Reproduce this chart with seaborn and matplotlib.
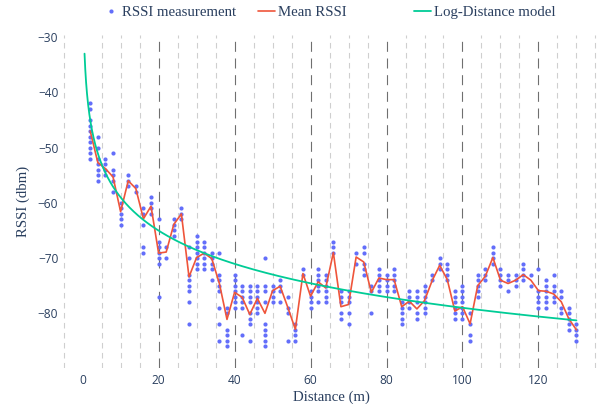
import numpy as np
import pandas as pd
import matplotlib
matplotlib.use("Agg")
import matplotlib.pyplot as plt
from matplotlib.lines import Line2D
from matplotlib.ticker import MultipleLocator
import seaborn as sns

# Measurement positions (m) and the RSSI readings taken at each position (dBm)
distances = [2, 4, 6, 8, 10, 12, 14, 16, 18, 20, 22, 24, 26, 28, 30, 32, 34, 36, 38, 40,
             42, 44, 46, 48, 50, 52, 54, 56, 58, 60, 62, 64, 66, 68, 70, 72, 74, 76, 78, 80,
             82, 84, 86, 88, 90, 92, 94, 96, 98, 100, 102, 104, 106, 108, 110, 112, 114, 116,
             118, 120, 122, 124, 126, 128, 130]

rssi_readings = [
    [-42, -43, -45, -46, -47, -48, -49, -50, -51, -52],
    [-48, -50, -52, -53, -54, -55, -56],
    [-52, -53, -54, -55],
    [-51, -54, -55, -56, -58],
    [-60, -61, -62, -63, -64],
    [-55, -56, -57],
    [-57, -58],
    [-61, -62, -64, -68, -69],
    [-59, -60, -61, -62],
    [-63, -67, -68, -69, -70, -71, -77],
    [-68, -70],
    [-63, -64, -65, -66],
    [-61, -62, -63],
    [-68, -70, -73, -74, -75, -76, -78, -82],
    [-66, -67, -68, -69, -70, -71, -72],
    [-67, -68, -69, -70, -71, -72],
    [-69, -70, -71, -72, -74],
    [-69, -73, -74, -75, -76, -79, -82, -85],
    [-79, -80, -83, -84, -85, -86],
    [-73, -74, -75, -76, -77, -78, -79],
    [-75, -76, -77, -78, -79, -84],
    [-75, -76, -77, -78, -80, -81, -82, -85],
    [-75, -76, -77, -78, -79, -80],
    [-70, -75, -76, -78, -82, -83, -84, -85, -86],
    [-75, -76, -77, -78],
    [-74, -75, -76, -78],
    [-77, -79, -80, -85],
    [-82, -83, -84, -85],
    [-72, -73],
    [-76, -77, -78, -79],
    [-72, -73, -74, -75, -76, -78],
    [-73, -74, -75, -76, -77, -78],
    [-67, -68, -69],
    [-76, -77, -78, -80, -81],
    [-76, -77, -78, -80, -82],
    [-69, -71],
    [-68, -69, -71, -72, -73],
    [-75, -76, -80],
    [-72, -73, -74, -75, -76],
    [-73, -74, -75, -76],
    [-72, -73, -74, -75, -76],
    [-78, -79, -80, -81, -82],
    [-76, -77, -78, -79],
    [-76, -77, -78, -80, -81],
    [-75, -76, -77, -78, -79, -80],
    [-73, -74],
    [-70, -71, -72],
    [-71, -72, -73, -74],
    [-76, -77, -78, -79, -80, -81],
    [-75, -76, -77, -78, -79, -80, -81],
    [-80, -82, -84, -85],
    [-73, -74, -75, -76, -77],
    [-72, -73, -74],
    [-68, -69, -70, -71],
    [-72, -73, -74, -75],
    [-73, -74, -76],
    [-73, -74, -75],
    [-71, -72, -73, -74],
    [-73, -75],
    [-72, -76, -77, -78, -79],
    [-74, -75, -76, -77, -78, -79],
    [-73, -75, -76, -77, -78],
    [-76, -77, -79, -80],
    [-79, -80, -81, -82, -83],
    [-82, -83, -84, -85],
]

# Mean RSSI per position (all repeated readings included)
mean_rssi = [-47.0, -52.7, -53.8, -55.3, -61.6, -56.0, -57.4, -62.9, -60.6, -69.1,
             -68.9, -63.9, -62.0, -73.4, -69.9, -69.1, -70.1, -74.6, -81.1, -76.2,
             -77.1, -80.2, -77.3, -80.0, -75.9, -75.1, -78.9, -82.9, -72.8, -76.9,
             -74.3, -75.4, -69.0, -78.8, -78.4, -69.8, -70.7, -76.2, -73.6, -73.9,
             -73.9, -78.8, -77.8, -79.2, -77.7, -74.1, -71.3, -73.9, -79.6, -78.8,
             -81.9, -75.0, -73.3, -69.9, -74.0, -74.6, -74.0, -73.0, -74.0, -75.9,
             -76.0, -76.5, -77.9, -81.0, -83.0]

# Log-distance path loss model: RSSI(d) = P0 - 10 * n * log10(d)
model_p0 = -39.0
model_n = 2.0
model_range = (0.5, 130.0)

# Colours
BLUE = "#636EFA"
RED = "#EF553B"
GREEN = "#00CC96"
TEXT = "#2a3f5f"

samples = pd.DataFrame(
    [(d, v) for d, vals in zip(distances, rssi_readings) for v in vals],
    columns=["distance", "rssi"],
)
means = pd.DataFrame({"distance": distances, "rssi": mean_rssi})
model_d = np.geomspace(*model_range, 400)
model = pd.DataFrame({"distance": model_d,
                      "rssi": model_p0 - 10 * model_n * np.log10(model_d)})

sns.set_theme(style="white")
plt.rcParams["font.family"] = ["Open Sans", "DejaVu Sans"]

fig = plt.figure(figsize=(6.05, 4.04), dpi=100)
W, H = 605, 404
left, right, top, bottom = 62.5, 600, 35, 368
ax = fig.add_axes([left / W, 1 - bottom / H, (right - left) / W, (bottom - top) / H])

sns.scatterplot(data=samples, x="distance", y="rssi", ax=ax, color=BLUE,
                s=9, linewidth=0, zorder=3, legend=False)
sns.lineplot(data=means, x="distance", y="rssi", ax=ax, color=RED,
             linewidth=1.2, estimator=None, sort=False, zorder=4)
sns.lineplot(data=model, x="distance", y="rssi", ax=ax, color=GREEN,
             linewidth=1.3, estimator=None, sort=False, zorder=5)

ax.set_xlim(-5.3, 136.2)
ax.set_ylim(-89.9, -29.6)
ax.set_yticks([-80, -70, -60, -50, -40, -30])

ax.xaxis.set_major_locator(MultipleLocator(20))
ax.xaxis.set_minor_locator(MultipleLocator(5))
ax.grid(False)
ax.grid(True, axis="x", which="major", color="#6f6f6f", linewidth=0.8,
        linestyle=(0, (9, 6)))
ax.grid(True, axis="x", which="minor", color="#cfcfcf", linewidth=0.8,
        linestyle=(0, (5, 4)))
for tick in ax.xaxis.get_major_ticks():
    if abs(tick.get_loc()) < 1e-9:
        tick.gridline.set_visible(False)

for s in ax.spines.values():
    s.set_visible(False)
ax.tick_params(axis="both", which="both", length=0, labelsize=8.6, labelcolor=TEXT)
ax.tick_params(axis="y", pad=3)
ax.tick_params(axis="x", pad=4)

serif = {"family": ["Liberation Serif", "DejaVu Serif"], "size": 10.7, "color": TEXT}
ax.set_xlabel("Distance (m)", fontdict=serif, labelpad=3)
ax.set_ylabel("RSSI (dbm)", fontdict=serif, labelpad=6)

legend_font = {"family": ["Liberation Serif", "DejaVu Serif"], "size": 10.7}
entries = [
    (Line2D([], [], marker="o", linestyle="", color=BLUE, markersize=3.0,
            markeredgewidth=0), "RSSI measurement", 107.5, 0.5, 0.47),
    (Line2D([], [], color=RED, linewidth=1.2), "Mean RSSI", 258, 1.14, 0.2),
    (Line2D([], [], color=GREEN, linewidth=1.3), "Log-Distance model", 414, 1.14, 0.2),
]
for handle, label, x0, hl, htp in entries:
    leg = fig.legend([handle], [label], loc="center left",
                     bbox_to_anchor=(x0 / W, 1 - 12 / H), frameon=False,
                     borderpad=0, borderaxespad=0, handlelength=hl,
                     handletextpad=htp, prop=legend_font)
    for t in leg.get_texts():
        t.set_color(TEXT)

fig.savefig("out.png", dpi=100)
